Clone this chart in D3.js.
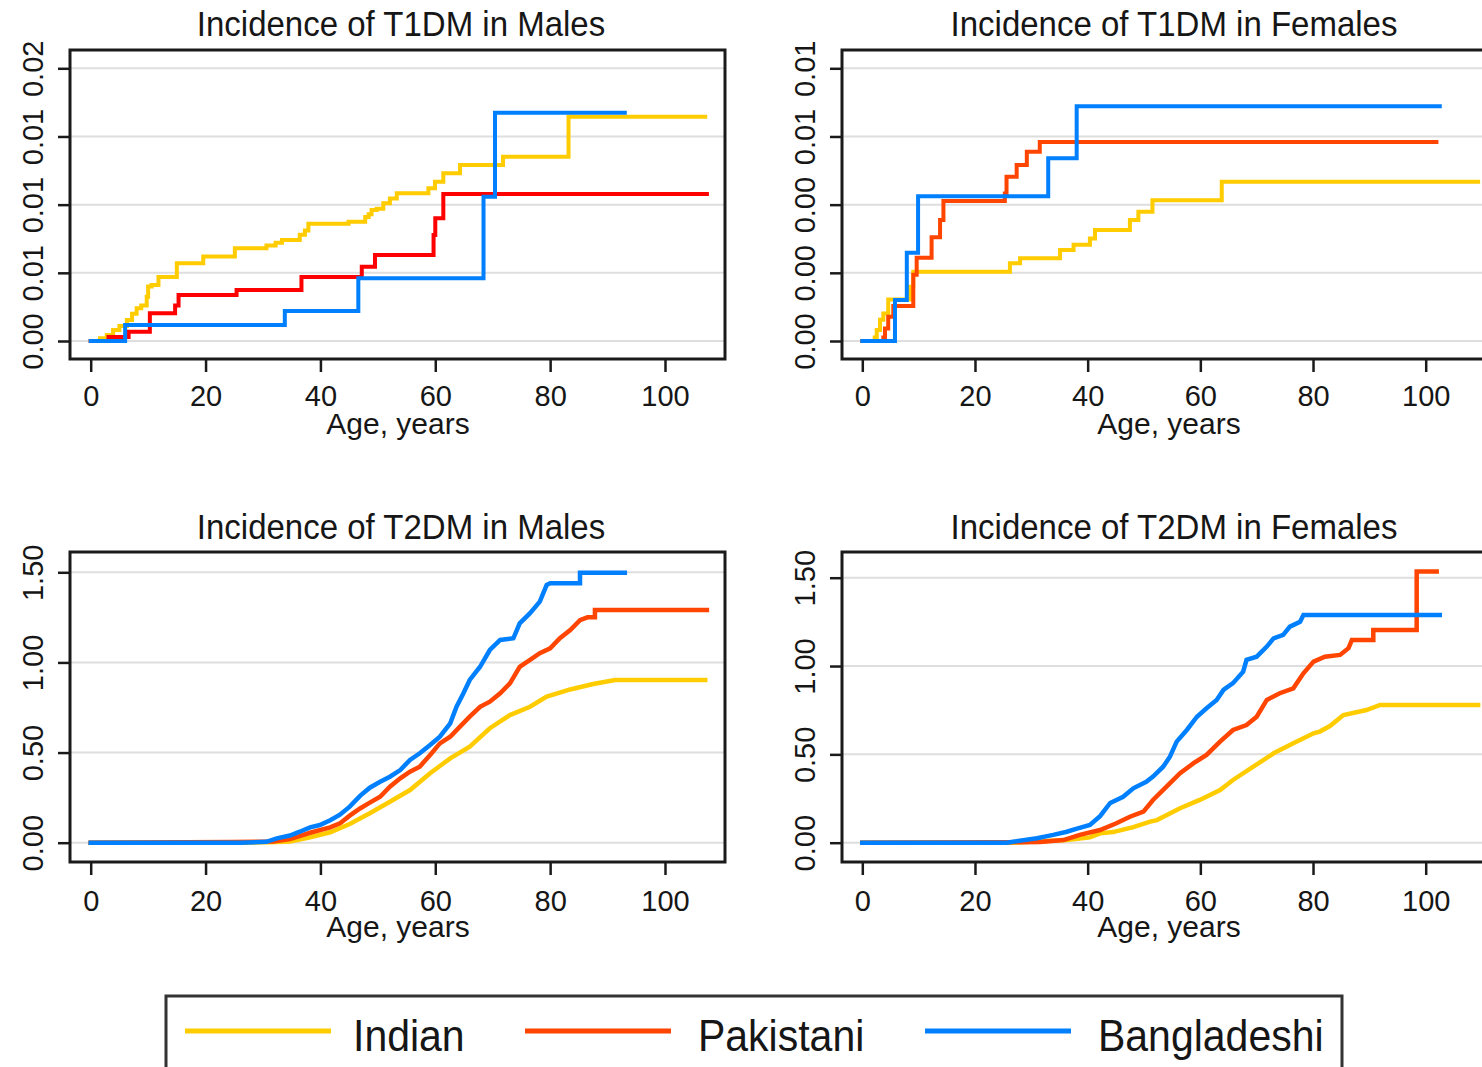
<!DOCTYPE html>
<html>
<head>
<meta charset="utf-8">
<script src="https://cdn.jsdelivr.net/npm/d3@7"></script>
<style>
  html, body { margin: 0; padding: 0; background: #fff; }
  svg { display: block; font-family: "Liberation Sans", Arial, sans-serif; }
</style>
</head>
<body>
<svg id="chart" width="1482" height="1067"></svg>
<script>
// ---------------- DATA ----------------
const categories = ["Indian", "Pakistani", "Bangladeshi"];
const panelTitles = [
  "Incidence of T1DM in Males", "Incidence of T1DM in Females",
  "Incidence of T2DM in Males", "Incidence of T2DM in Females"
];
const xAxisTitle = "Age, years";
const xTicks = [0, 20, 40, 60, 80, 100];

const yTicksT1M = [0, 0.005, 0.01, 0.015, 0.02];
const yLabelsT1M = ["0.00", "0.01", "0.01", "0.01", "0.02"];
const yTicksT1F = [0, 0.002, 0.004, 0.006, 0.008];
const yLabelsT1F = ["0.00", "0.00", "0.00", "0.01", "0.01"];
const yTicksT2 = [0, 0.5, 1, 1.5];
const yLabelsT2 = ["0.00", "0.50", "1.00", "1.50"];

// [age, cumulative incidence]
const indianT1M = [[0,0],[1.6,0.0002],[2.8,0.00044],[3.9,0.0008],[5.0,0.0011],[6.3,0.00154],[7.2,0.002],[8.0,0.0024],[8.8,0.0026],[9.75,0.00325],[10.0,0.004],[10.6,0.0041],[11.8,0.0047],[15.0,0.0057],[19.6,0.0062],[25.1,0.0068],[30.6,0.0070],[32.2,0.0072],[33.3,0.0074],[36.4,0.0078],[37.3,0.0081],[37.9,0.0086],[44.9,0.00875],[47.8,0.0091],[48.4,0.0093],[48.9,0.0096],[49.8,0.0097],[50.95,0.0101],[52.1,0.01046],[53.3,0.01083],[58.8,0.0112],[59.95,0.01168],[61.4,0.0123],[64.3,0.0129],[71.8,0.01351],[83.2,0.01644],[107.0,0.01644]];
const pakistaniT1M = [[0,0],[3.1,0.0003],[6.6,0.00068],[10.3,0.00203],[14.7,0.0026],[15.3,0.00337],[25.4,0.00374],[36.7,0.0047],[47.2,0.00545],[49.5,0.0063],[59.7,0.00777],[60.0,0.009],[61.4,0.01078],[107.3,0.01078]];
const bangladeshiT1M = [[0,0],[6.0,0.00117],[33.8,0.0022],[46.6,0.0046],[68.4,0.01058],[70.4,0.01674],[93.0,0.01674]];

const indianT1F = [[0,0],[2.2,0.0001],[2.56,0.00032],[3.14,0.00062],[3.73,0.00081],[4.6,0.00122],[8.47,0.00159],[9.05,0.00203],[26.2,0.00228],[28.0,0.00243],[35.1,0.00267],[37.5,0.00282],[40.4,0.00301],[41.3,0.00326],[47.5,0.00355],[49.0,0.00379],[51.5,0.00413],[63.8,0.00467],[109.3,0.00467]];
const pakistaniT1F = [[0,0],[3.73,0.0001],[4.03,0.00037],[4.6,0.00071],[5.5,0.00103],[9.05,0.00194],[9.65,0.00244],[12.3,0.00304],[13.8,0.00355],[14.4,0.00411],[25.3,0.00433],[25.6,0.00482],[27.4,0.00516],[29.2,0.00555],[31.5,0.00584],[101.9,0.00584]];
const bangladeshiT1F = [[0,0],[5.8,0.0012],[7.9,0.00259],[9.9,0.00425],[33.0,0.00536],[38.05,0.00689],[102.5,0.00689]];

const indianT2M = [[0,0],[26.5,0],[31,0.002],[34.7,0.006],[38.2,0.03],[41.7,0.058],[45.1,0.104],[48.6,0.163],[52.1,0.227],[55.6,0.292],[59.1,0.385],[62.6,0.468],[66.0,0.533],[69.5,0.635],[73.0,0.708],[76.5,0.754],[79.4,0.81],[83.5,0.85],[87.5,0.88],[91.3,0.903],[107.0,0.903]];
const pakistaniT2M = [[0,0],[24.8,0.004],[31.8,0.007],[34.7,0.02],[38.2,0.055],[41.7,0.085],[43.4,0.107],[45.1,0.15],[46.9,0.19],[48.6,0.222],[50.4,0.255],[52.1,0.311],[53.9,0.357],[55.6,0.394],[57.3,0.422],[59.1,0.487],[60.8,0.551],[62.6,0.588],[64.3,0.644],[66.0,0.699],[67.8,0.754],[69.5,0.782],[71.3,0.829],[73.0,0.884],[74.7,0.976],[76.5,1.014],[78.2,1.051],[80.0,1.078],[81.7,1.134],[83.5,1.18],[85.2,1.235],[86.5,1.25],[87.8,1.25],[87.8,1.291],[107.3,1.291]];
const bangladeshiT2M = [[0,0],[26,0],[30.6,0.005],[32.4,0.024],[34.7,0.04],[36.4,0.061],[38.2,0.085],[39.9,0.098],[41.7,0.125],[43.4,0.155],[45.1,0.2],[46.9,0.26],[48.6,0.305],[50.4,0.338],[52.1,0.366],[53.9,0.403],[55.6,0.459],[57.3,0.496],[59.1,0.542],[60.8,0.588],[62.6,0.662],[63.7,0.754],[64.9,0.829],[66.0,0.903],[67.8,0.976],[69.5,1.069],[71.3,1.125],[73.6,1.134],[74.7,1.217],[76.5,1.273],[78.2,1.337],[79.4,1.43],[80.0,1.439],[85.2,1.439],[85.2,1.498],[93.0,1.498]];

const indianT2F = [[0,0],[27,0],[36.3,0.015],[40.4,0.03],[42.2,0.053],[44.5,0.06],[48.1,0.088],[51.1,0.119],[52.3,0.128],[56.4,0.195],[59.9,0.242],[63.5,0.298],[65.8,0.355],[69.4,0.43],[73.0,0.506],[76.5,0.563],[80.1,0.619],[81.2,0.629],[83.0,0.66],[85.4,0.723],[89.5,0.751],[91.9,0.78],[109.3,0.78]];
const pakistaniT2F = [[0,0],[26,0.003],[31.5,0.004],[35.7,0.015],[38.6,0.044],[42.2,0.072],[45.1,0.11],[47.5,0.147],[49.9,0.176],[51.6,0.242],[54.0,0.317],[56.4,0.393],[58.8,0.45],[61.1,0.497],[63.5,0.572],[65.8,0.638],[68.2,0.666],[70.0,0.713],[71.8,0.808],[74.1,0.846],[76.5,0.874],[78.3,0.959],[80.1,1.025],[82.1,1.053],[84.8,1.063],[86.3,1.101],[86.9,1.148],[90.7,1.148],[90.7,1.204],[98.4,1.204],[98.4,1.535],[101.95,1.535]];
const bangladeshiT2F = [[0,0],[25.6,0],[31.0,0.025],[33.9,0.044],[36.3,0.062],[38.1,0.08],[40.4,0.1],[42.2,0.15],[44.0,0.225],[46.3,0.26],[48.1,0.308],[50.4,0.345],[51.6,0.374],[53.4,0.43],[54.6,0.487],[55.8,0.572],[57.6,0.638],[59.4,0.713],[61.1,0.761],[62.9,0.808],[64.1,0.865],[65.8,0.903],[67.6,0.968],[68.2,1.035],[70.0,1.053],[71.8,1.11],[73.0,1.157],[74.7,1.176],[75.9,1.223],[77.7,1.251],[78.3,1.289],[102.5,1.289]];

// ---------------- STYLE / LAYOUT ----------------
const COL_IND = "#ffcc00", COL_PAK = "#ff4500", COL_PAK_T1M = "#ff0000", COL_BAN = "#0080ff";
const TXT = "#161616";

const panels = [
  { title: panelTitles[0], frame: [70, 50, 725, 359], x0: 90.7, x100: 665, yTop: 68.3, yBot: 341,
    yTicks: yTicksT1M, yLabels: yLabelsT1M, step: true, lw: 4,
    series: [[indianT1M, COL_IND], [pakistaniT1M, COL_PAK_T1M], [bangladeshiT1M, COL_BAN]],
    titleX: 401, titleY: 36, axTitleX: 398, axTitleY: 434, tickLblY: 406 },
  { title: panelTitles[1], frame: [842, 50, 1484, 359], x0: 862.3, x100: 1425.7, yTop: 68.3, yBot: 341,
    yTicks: yTicksT1F, yLabels: yLabelsT1F, step: true, lw: 4,
    series: [[indianT1F, COL_IND], [pakistaniT1F, COL_PAK], [bangladeshiT1F, COL_BAN]],
    titleX: 1174, titleY: 36, axTitleX: 1169, axTitleY: 434, tickLblY: 406 },
  { title: panelTitles[2], frame: [70, 552, 725, 862], x0: 90.7, x100: 665, yTop: 572.3, yBot: 842.7,
    yTicks: yTicksT2, yLabels: yLabelsT2, step: false, lw: 4.5,
    series: [[indianT2M, COL_IND], [pakistaniT2M, COL_PAK], [bangladeshiT2M, COL_BAN]],
    titleX: 401, titleY: 539, axTitleX: 398, axTitleY: 937, tickLblY: 911 },
  { title: panelTitles[3], frame: [842, 552, 1484, 862], x0: 862.3, x100: 1425.7, yTop: 577.7, yBot: 842.7,
    yTicks: yTicksT2, yLabels: yLabelsT2, step: false, lw: 4.5,
    series: [[indianT2F, COL_IND], [pakistaniT2F, COL_PAK], [bangladeshiT2F, COL_BAN]],
    titleX: 1174, titleY: 539, axTitleX: 1169, axTitleY: 937, tickLblY: 911 }
];

const svg = d3.select("#chart");

panels.forEach(p => {
  const [fx0, fy0, fx1, fy1] = p.frame;
  const x = d3.scaleLinear().domain([0, 100]).range([p.x0, p.x100]);
  const yMax = p.yTicks[p.yTicks.length - 1];
  const y = d3.scaleLinear().domain([0, yMax]).range([p.yBot, p.yTop]);
  const g = svg.append("g");

  // gridlines
  g.selectAll("line.grid").data(p.yTicks).enter().append("line")
    .attr("x1", fx0).attr("x2", fx1)
    .attr("y1", d => y(d)).attr("y2", d => y(d))
    .attr("stroke", "#dedede").attr("stroke-width", 2);

  // series
  const line = d3.line().x(d => x(d[0])).y(d => y(d[1]))
    .curve(p.step ? d3.curveStepAfter : d3.curveLinear);
  p.series.forEach(([data, color]) => {
    g.append("path").datum(data).attr("d", line)
      .attr("fill", "none").attr("stroke", color).attr("stroke-width", p.lw)
      .attr("stroke-linejoin", "miter").attr("stroke-linecap", "square");
  });

  // frame
  g.append("rect").attr("x", fx0).attr("y", fy0)
    .attr("width", fx1 - fx0).attr("height", fy1 - fy0)
    .attr("fill", "none").attr("stroke", "#1a1a1a").attr("stroke-width", 3);

  // x axis
  const xa = g.append("g").attr("transform", `translate(0,${fy1})`)
    .call(d3.axisBottom(x).tickValues(xTicks).tickSize(13).tickFormat(d3.format("d")));
  xa.select(".domain").remove();
  xa.selectAll(".tick line").attr("stroke", "#1a1a1a").attr("stroke-width", 2.5);
  xa.selectAll(".tick text").attr("dy", null).attr("y", p.tickLblY - fy1)
    .attr("fill", TXT).attr("font-size", 29).attr("font-family", "Liberation Sans, Arial, sans-serif");

  // y axis
  const ya = g.append("g").attr("transform", `translate(${fx0},0)`)
    .call(d3.axisLeft(y).tickValues(p.yTicks).tickSize(12).tickFormat((d, i) => p.yLabels[i]));
  ya.select(".domain").remove();
  ya.selectAll(".tick line").attr("stroke", "#1a1a1a").attr("stroke-width", 2.5);
  ya.selectAll(".tick text").attr("dy", null).attr("x", 0).attr("y", -27)
    .attr("transform", "rotate(-90)").attr("text-anchor", "middle")
    .attr("fill", TXT).attr("font-size", 29).attr("font-family", "Liberation Sans, Arial, sans-serif");

  // titles (slightly tall glyphs like the reference)
  g.append("text").attr("transform", `translate(${p.titleX},${p.titleY}) scale(1,1.06)`)
    .attr("text-anchor", "middle").attr("font-size", 33).attr("fill", TXT).text(p.title);
  g.append("text").attr("x", p.axTitleX).attr("y", p.axTitleY).attr("text-anchor", "middle")
    .attr("font-size", 30).attr("fill", TXT).text(xAxisTitle);
});

// legend
const legendColors = [COL_IND, COL_PAK, COL_BAN];
const legendLineX = [185, 525, 925];
const legendTextX = [353, 698, 1098];
const lg = svg.append("g");
lg.append("rect").attr("x", 166).attr("y", 996).attr("width", 1176).attr("height", 100)
  .attr("fill", "#fff").attr("stroke", "#333").attr("stroke-width", 3);
categories.forEach((c, i) => {
  lg.append("line").attr("x1", legendLineX[i]).attr("x2", legendLineX[i] + 146)
    .attr("y1", 1031).attr("y2", 1031).attr("stroke", legendColors[i]).attr("stroke-width", 5);
  lg.append("text").attr("transform", `translate(${legendTextX[i]},1051) scale(1,1.1)`)
    .attr("font-size", 41).attr("fill", TXT).text(c);
});
</script>
</body>
</html>
